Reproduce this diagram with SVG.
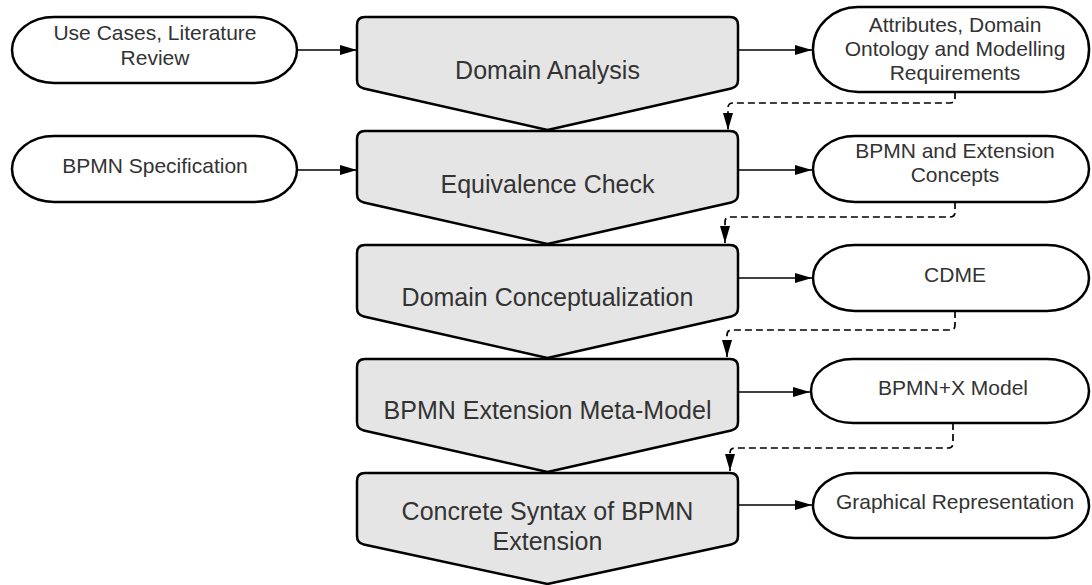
<svg xmlns="http://www.w3.org/2000/svg" width="1092" height="585" viewBox="0 0 1092 585">
<style>
.box{fill:#e5e5e5;stroke:#000;stroke-width:2.5;stroke-linejoin:round}
.ov{fill:#fff;stroke:#000;stroke-width:2.5}
.t{font-family:"Liberation Sans",Arial,sans-serif;fill:#333;text-anchor:middle}
.m{font-size:25px}
.s{font-size:21px}
.c{fill:none;stroke:#000;stroke-width:1.7}
.d{stroke-dasharray:7,4}
</style>
<defs>
<marker id="ah" markerWidth="17" markerHeight="11" refX="17" refY="5.5" orient="auto" markerUnits="userSpaceOnUse">
<path d="M0,0.5 L17,5.5 L0,10.5 Z" fill="#000"/>
</marker>
</defs>
<rect width="1092" height="585" fill="#fff"/>
<g id="connectors">
<path class="c" d="M297,50 H357" marker-end="url(#ah)"/>
<path class="c" d="M297,170 H357" marker-end="url(#ah)"/>
<path class="c" d="M738,50 H812" marker-end="url(#ah)"/>
<path class="c" d="M738,170 H812" marker-end="url(#ah)"/>
<path class="c" d="M738,278 H812" marker-end="url(#ah)"/>
<path class="c" d="M738,392 H810" marker-end="url(#ah)"/>
<path class="c" d="M738,505 H812" marker-end="url(#ah)"/>
<path class="c d" d="M955,92 V98 Q955,103 950,103 H733 Q728,103 728,108 V130" marker-end="url(#ah)"/>
<path class="c d" d="M955,202 V212 Q955,217 950,217 H730 Q725,217 725,222 V243" marker-end="url(#ah)"/>
<path class="c d" d="M955,311 V325 Q955,330 950,330 H732 Q727,330 727,335 V357" marker-end="url(#ah)"/>
<path class="c d" d="M953,423 V443 Q953,448 948,448 H735 Q730,448 730,453 V471" marker-end="url(#ah)"/>
</g>
<g id="use-cases">
<rect class="ov" x="12" y="17" width="285" height="66" rx="42" ry="33"/>
<text class="t s" x="155" y="40">Use Cases, Literature</text>
<text class="t s" x="155" y="65">Review</text>
</g>
<g id="bpmn-spec">
<rect class="ov" x="12" y="136" width="285" height="66" rx="42" ry="33"/>
<text class="t s" x="155" y="173">BPMN Specification</text>
</g>
<g id="domain-analysis">
<path class="box" d="M365,17 H730 Q738,17 738,25 V80 Q738,87 731.2,88.5 L547.5,130 L363.8,88.5 Q357,87 357,80 V25 Q357,17 365,17 Z"/>
<text class="t m" x="547.5" y="79">Domain Analysis</text>
</g>
<g id="equivalence-check">
<path class="box" d="M365,131 H730 Q738,131 738,139 V194 Q738,201 731.2,202.5 L547.5,244 L363.8,202.5 Q357,201 357,194 V139 Q357,131 365,131 Z"/>
<text class="t m" x="547.5" y="193">Equivalence Check</text>
</g>
<g id="domain-conceptualization">
<path class="box" d="M365,245 H730 Q738,245 738,253 V308 Q738,315 731.2,316.5 L547.5,358 L363.8,316.5 Q357,315 357,308 V253 Q357,245 365,245 Z"/>
<text class="t m" x="547.5" y="306">Domain Conceptualization</text>
</g>
<g id="meta-model">
<path class="box" d="M365,359 H730 Q738,359 738,367 V422 Q738,429 731.2,430.5 L547.5,472 L363.8,430.5 Q357,429 357,422 V367 Q357,359 365,359 Z"/>
<text class="t m" x="547.5" y="419">BPMN Extension Meta-Model</text>
</g>
<g id="concrete-syntax">
<path class="box" d="M365,473 H730 Q738,473 738,481 V536 Q738,543 731.2,544.5 L547.5,584 L363.8,544.5 Q357,543 357,536 V481 Q357,473 365,473 Z"/>
<text class="t m" x="547.5" y="520">Concrete Syntax of BPMN</text>
<text class="t m" x="547.5" y="550">Extension</text>
</g>
<g id="attributes">
<rect class="ov" x="813" y="7" width="276" height="85" rx="45" ry="42"/>
<text class="t s" x="955" y="32">Attributes, Domain</text>
<text class="t s" x="955" y="56">Ontology and Modelling</text>
<text class="t s" x="955" y="80">Requirements</text>
</g>
<g id="bpmn-ext-concepts">
<rect class="ov" x="813" y="136" width="276" height="66" rx="42" ry="33"/>
<text class="t s" x="955" y="158">BPMN and Extension</text>
<text class="t s" x="955" y="182">Concepts</text>
</g>
<g id="cdme">
<rect class="ov" x="813" y="245" width="276" height="66" rx="42" ry="33"/>
<text class="t s" x="955" y="282">CDME</text>
</g>
<g id="bpmn-x-model">
<rect class="ov" x="811" y="359" width="278" height="64" rx="42" ry="32"/>
<text class="t s" x="953" y="395">BPMN+X Model</text>
</g>
<g id="graphical-representation">
<rect class="ov" x="813" y="473" width="276" height="65" rx="42" ry="32.5"/>
<text class="t s" x="955" y="509">Graphical Representation</text>
</g>
</svg>
